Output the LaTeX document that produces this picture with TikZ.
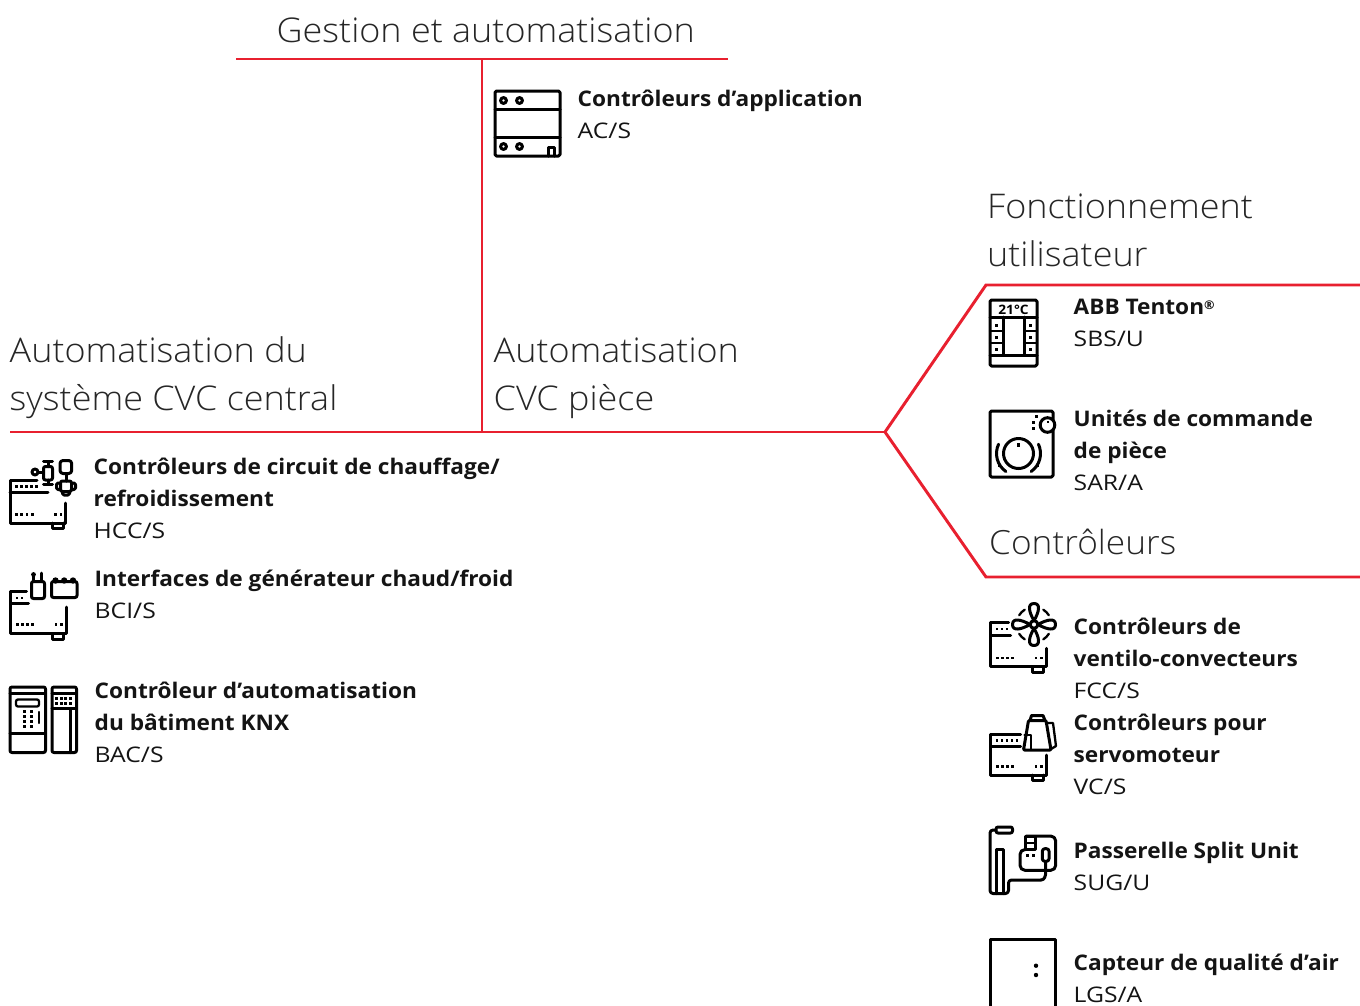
\documentclass[tikz,border=0pt]{standalone}
\usepackage{fontspec}
\setmainfont{Open Sans}[FakeStretch=1.15]
\newfontfamily\headfont{Open Sans Light}[FakeStretch=1.058]
\newfontfamily\boldfont{Open Sans}[UprightFont=* Bold,FakeStretch=1.053]
\usetikzlibrary{calc}
\definecolor{abbred}{HTML}{E8202F}
\tikzset{
  redline/.style={draw=abbred,line width=2.95pt,line join=miter},
  icon/.style={draw=black,line width=3pt,line cap=round,line join=round},
  thin icon/.style={draw=black,line width=2.3pt,line cap=round,line join=round},
  headtext/.style={anchor=base west,inner sep=0pt,font=\headfont\fontsize{34}{34}\selectfont,text=black!85},
  titletext/.style={anchor=base west,inner sep=0pt,font=\boldfont\fontsize{21.5}{21.5}\selectfont,text=black!92},
  codetext/.style={anchor=base west,inner sep=0pt,font=\fontsize{21.5}{21.5}\selectfont,text=black!92},
}
% x, y, top end, mid y, mid end, right start y, bottom, n upper dots
\newcommand\ctrlbase[8]{%
  \begin{scope}[shift={(#1,#2)}]
    \draw[icon] (#3,0) -- (0,0) -- (0,#7) -- (55.5,#7) -- (55.5,#6);
    \draw[icon] (0,#4) -- (#5,#4);
    \draw[icon] (42,#7) -- (42,#7+5.5) -- (53,#7+5.5) -- (53,#7);
    \foreach \i in {1,...,#8} \fill (\i*5+0.3,5.2) rectangle +(2.5,2.5);
    \foreach \i in {1,2,3,4} \fill (\i*5.2,#7-10.2) rectangle +(2.8,2.8);
    \fill (44,#7-10.2) rectangle +(2.8,2.8);
    \fill (49.5,#7-10.2) rectangle +(2.8,2.8);
  \end{scope}}
\begin{document}
\begin{tikzpicture}[x=1pt,y=-1pt]
\useasboundingbox (0,0) rectangle (1360,1005);
% connectors
\coordinate (tl) at (236,59); \coordinate (tr) at (728,59); \coordinate (tm) at (482,59);
\coordinate (ml) at (10,432); \coordinate (mm) at (482,432); \coordinate (mr) at (885,432);
\coordinate (ua) at (986,285); \coordinate (ub) at (1361,285);
\coordinate (ca) at (986,577); \coordinate (cb) at (1361,577);
\draw[redline] (tl) -- (tr);
\draw[redline] (tm) -- (mm);
\draw[redline] (ml) -- (mr);
\draw[redline] (ub) -- (ua) -- (mr) -- (ca) -- (cb);
% headings
\node[headtext] (h1) at (276.5,42.6) {Gestion et automatisation};
\node[headtext] (h2) at (987,218.6) {Fonctionnement};
\node[headtext] (h2b) at (987,266.6) {utilisateur};
\node[headtext] (h3) at (9.5,362.6) {Automatisation du};
\node[headtext] (h3b) at (9.5,410.6) {système CVC central};
\node[headtext] (h4) at (493.5,362.6) {Automatisation};
\node[headtext] (h4b) at (493.5,410.6) {CVC pièce};
\node[headtext,font=\headfont\fontsize{33.3}{33.3}\selectfont] (h5) at (989,554.6) {Contrôleurs};
% entries
\node[titletext] (a1) at (577.5,106) {Contrôleurs d’application};
\node[codetext] (a2) at (577.5,138) {AC/S};
\node[titletext] (b1) at (1073.5,314) {ABB Tenton\raisebox{5pt}{\fontsize{12}{12}\selectfont®}};
\node[codetext] (b2) at (1073.5,346) {SBS/U};
\node[titletext] (c1) at (1073.5,426) {Unités de commande};
\node[titletext] (c2) at (1073.5,458) {de pièce};
\node[codetext] (c3) at (1073.5,490) {SAR/A};
\node[titletext] (d1) at (93.5,474) {Contrôleurs de circuit de chauffage/};
\node[titletext] (d2) at (93.5,506) {refroidissement};
\node[codetext] (d3) at (93.5,538) {HCC/S};
\node[titletext] (e1) at (94.5,586) {Interfaces de générateur chaud/froid};
\node[codetext] (e2) at (94.5,618) {BCI/S};
\node[titletext] (f1) at (94.5,698) {Contrôleur d’automatisation};
\node[titletext] (f2) at (94.5,730) {du bâtiment KNX};
\node[codetext] (f3) at (94.5,762) {BAC/S};
\node[titletext] (g1) at (1073.5,634) {Contrôleurs de};
\node[titletext] (g2) at (1073.5,666) {ventilo-convecteurs};
\node[codetext] (g3) at (1073.5,698) {FCC/S};
\node[titletext] (i1) at (1073.5,730) {Contrôleurs pour};
\node[titletext] (i2) at (1073.5,762) {servomoteur};
\node[codetext] (i3) at (1073.5,794) {VC/S};
\node[titletext] (j1) at (1073.5,858) {Passerelle Split Unit};
\node[codetext] (j2) at (1073.5,890) {SUG/U};
\node[titletext] (k1) at (1073.5,970) {Capteur de qualité d’air};
\node[codetext] (k2) at (1073.5,1002) {LGS/A};
% AC/S icon
\draw[icon,rounded corners=1.5pt] (495,91) rectangle (560,156);
\draw[icon] (495,109) -- (560,109) (495,137) -- (560,137);
\foreach \x in {503.5,519.5} \foreach \y in {100.5,146.5} \draw[icon] (\x,\y) circle (2.9);
\draw[icon] (548,156) -- (548,147.5) -- (554,147.5) -- (554,156);
% SBS/U icon
\draw[icon,rounded corners=1.5pt] (990,300) rectangle (1037,366);
\draw[icon] (990,317) -- (1037,317) (990,355) -- (1037,355);
\draw[icon] (1003.5,317) -- (1003.5,355) (1024,317) -- (1024,355);
\draw[thin icon] (990,331) -- (1003.5,331) (990,343) -- (1003.5,343) (1024,331) -- (1037,331) (1024,343) -- (1037,343);
\foreach \x in {996.7,1030.5} \foreach \y in {325.5,337.5,349.5} \fill (\x-1.5,\y-1.5) rectangle +(3,3);
\node[inner sep=0pt,font=\boldfont\fontsize{13}{13}\selectfont] (tw) at (1013.5,309.5) {21°C};
% SAR/A icon
\draw[icon,rounded corners=1.5pt] (990,411) rectangle (1053,477);
\draw[icon,fill=white] (1047.5,425) circle (7.3);
\draw[icon] (1018.5,453.5) circle (15);
\draw[icon] (1018.5,453.5) ++(125:22) arc (125:205:22);
\draw[icon] (1018.5,453.5) ++(55:22) arc (55:-25:22);
\fill (1017,442.5) rectangle +(3,4);
\foreach \p in {(999.5,465),(1037,465),(1036,416),(1033.5,422.5),(1033.5,428.5)} \fill \p ++(-1.5,-1.5) rectangle +(3,3);
\fill (1046.5,420.5) rectangle +(2.6,2.6);
% HCC/S
\ctrlbase{10}{480}{27}{12.7}{38}{23}{43}{5}
\draw[icon,rounded corners=2pt] (43.5,466.5) rectangle (52.5,480);
\draw[icon] (43.5,461.7) -- (52.5,461.7) (48,461.7) -- (48,466.5) (43.5,484.3) -- (52.5,484.3) (48,480) -- (48,484.3) (38,472) -- (43.5,472);
\draw[icon] (35,472) circle (3);
\draw[icon,rounded corners=3pt] (60,473.5) -- (60,460.5) -- (71.7,460.5) -- (71.7,473.5) -- cycle;
\draw[icon] (66,473.5) -- (66,481);
\draw[icon,rounded corners=2pt] (60.5,481) rectangle (71.5,491.5);
\draw[icon,rounded corners=1.5pt] (60.5,483) -- (56.5,483) -- (56.5,489.5) -- (60.5,489.5) (71.5,483) -- (75.5,483) -- (75.5,489.5) -- (71.5,489.5) (62.5,491.5) -- (62.5,495) -- (69.5,495) -- (69.5,491.5);
% BCI/S
\ctrlbase{10.5}{591.5}{16}{12}{18}{15.5}{42}{2}
\draw[icon,rounded corners=2pt] (31.5,581.5) rectangle (44.5,598.5);
\draw[icon] (33.5,575) -- (33.5,581.5) (41.5,573) -- (41.5,581.5);
\fill (33.5,574.5) circle (2.4);
\draw[icon,rounded corners=2pt] (51.5,597.5) rectangle (77,581.5);
\foreach \x in {55.5,64.2,73} \fill (\x,580.5) circle (3.2);
% BAC/S
\draw[icon,rounded corners=2pt] (10,687) rectangle (45.5,752.5);
\draw[icon] (10,693.5) -- (45.5,693.5) (10,733.5) -- (45.5,733.5);
\draw[thin icon,rounded corners=2pt] (16,699.5) rectangle (39,706.5);
\foreach \x in {24,31} \foreach \y in {711.5,716.5,721.5,726.5} \fill (\x-1.3,\y-1.3) rectangle +(2.8,2.8);
\draw[thin icon] (39,712) -- (39,723);
\draw[icon,rounded corners=2pt] (52,687) rectangle (76.5,752.5);
\draw[icon] (52,693.5) -- (76.5,693.5) (52,708.5) -- (76.5,708.5) (70,708.5) -- (70,752.5);
\foreach \x in {56.5,61,65.5,70} \foreach \y in {698,703} \fill (\x-1.2,\y-1.2) rectangle +(2.8,2.8);
% FCC/S
\ctrlbase{990.5}{622.7}{18}{12.3}{20}{25.6}{44}{3}
\draw[icon] (1034,624.5) circle (3.8);
\draw[icon] (1034,620.7) .. controls (1029,612) and (1027,603.5) .. (1034,603.5) .. controls (1041,603.5) and (1039,612) .. (1034,620.7);
\draw[icon] (1034,628.3) .. controls (1029,637) and (1027,645.5) .. (1034,645.5) .. controls (1041,645.5) and (1039,637) .. (1034,628.3);
\draw[icon] (1030.2,624.5) .. controls (1021,619.5) and (1012.5,617.5) .. (1012.5,624.5) .. controls (1012.5,631.5) and (1021,629.5) .. (1030.2,624.5);
\draw[icon] (1037.8,624.5) .. controls (1047,619.5) and (1055.5,617.5) .. (1055.5,624.5) .. controls (1055.5,631.5) and (1047,629.5) .. (1037.8,624.5);
\foreach \a in {45,135,225,315} \draw[thin icon] (1034,624.5) ++(\a-13:17.5) arc (\a-13:\a+13:17.5);
% VC/S
\ctrlbase{990.5}{734}{30}{12.7}{30}{21}{41}{5}
\draw[icon,rounded corners=1pt] (1023.5,750) -- (1028.5,720.5) -- (1046,720.5) -- (1051,750) -- cycle;
\draw[icon] (1030,720.5) -- (1031.5,715.5) -- (1043,715.5) -- (1045,720.5);
\draw[thin icon] (1047,723) -- (1053,723) -- (1056,746) -- (1051,749);
\draw[thin icon] (1024.5,735) -- (1031,735) -- (1031,749);
% SUG/U
\draw[icon,rounded corners=2pt] (996,827) rectangle (1012.5,833);
\draw[icon,rounded corners=3pt] (996,830) -- (990,830) -- (990,893.5) -- (1008.5,893.5) -- (1008.5,880) -- (1041,880);
\draw[icon] (1041,880) .. controls (1044.5,880) and (1045.7,876) .. (1045.7,872) -- (1045.7,861.5);
\draw[icon] (996.7,893.5) -- (996.7,849.5) -- (1003.3,849.5) -- (1003.3,893.5);
\draw[icon,rounded corners=2.5pt] (1042.3,848.7) rectangle (1049,861.3);
\draw[icon,rounded corners=5pt] (1025.7,849.5) -- (1020,849.5) -- (1020,870.3) -- (1055.7,870.3) -- (1055.7,836) -- (1026,836);
\draw[icon] (1025.7,836.5) rectangle (1035,849.5);
\draw[thin icon] (1025.7,842.7) -- (1035,842.7);
\foreach \x in {1027.3,1033.3} \fill (\x-1.3,854) rectangle +(2.8,2.8);
% LGS/A
\draw[icon] (990,1007) -- (990,939.5) -- (1055,939.5) -- (1055,1007);
\foreach \y in {965.7,975} \fill (1036,\y) circle (2.2);
\end{tikzpicture}
\end{document}
